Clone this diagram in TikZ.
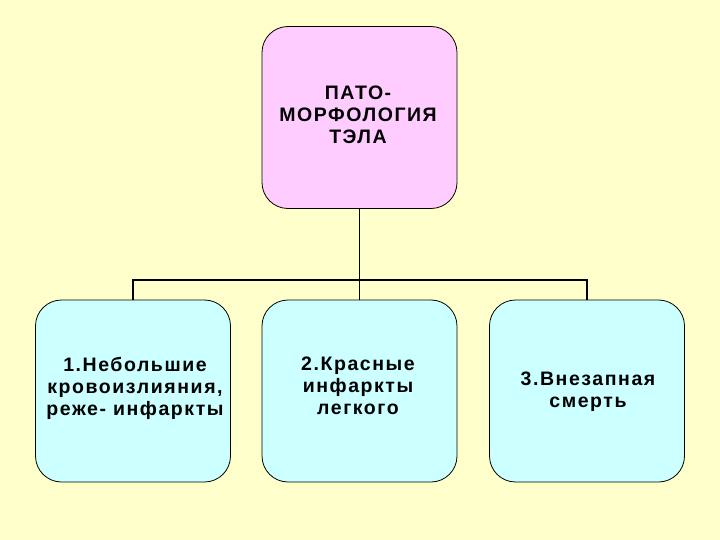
\documentclass[tikz,border=0pt]{standalone}
\usepackage{fontspec}
\setmainfont{Liberation Sans}[LetterSpace=8]
\definecolor{bg}{HTML}{FFFFCC}
\definecolor{pinkb}{HTML}{FFCCFF}
\definecolor{cyanb}{HTML}{CCFFFF}
\begin{document}
\begin{tikzpicture}[x=1pt,y=-1pt,
  boxst/.style={draw=black,line width=0.8pt,rounded corners=26pt,minimum width=195pt,minimum height=182pt,inner sep=0pt},
  txt/.style={font=\bfseries\fontsize{19.5}{22}\selectfont,align=center},
  conn/.style={line width=1.8pt}]
\fill[bg] (0,0) rectangle (720,540);
\useasboundingbox (0,0) rectangle (720,540);
\node[boxst,fill=pinkb] (top) at (359.5,117.5) {};
\node[boxst,fill=cyanb] (b1) at (133,391) {};
\node[boxst,fill=cyanb] (b2) at (359.5,391) {};
\node[boxst,fill=cyanb] (b3) at (587,391) {};
\node[txt] (t0) at (358,115) {ПАТО-\\МОРФОЛОГИЯ\\ТЭЛА};
\node[txt] (t1) at (135,388) {1.Небольшие\\кровоизлияния,\\реже- инфаркты};
\node[txt] (t2) at (358,386) {2.Красные\\инфаркты\\легкого};
\node[txt] (t3) at (588,392) {3.Внезапная\\смерть};
\coordinate (j) at (359.5,280);
\draw[conn] (top.south) -- (j);
\draw[conn] (b1.north) -- (b1.north |- j) -- (b3.north |- j) -- (b3.north);
\draw[conn] (j) -- (b2.north);
\end{tikzpicture}
\end{document}
